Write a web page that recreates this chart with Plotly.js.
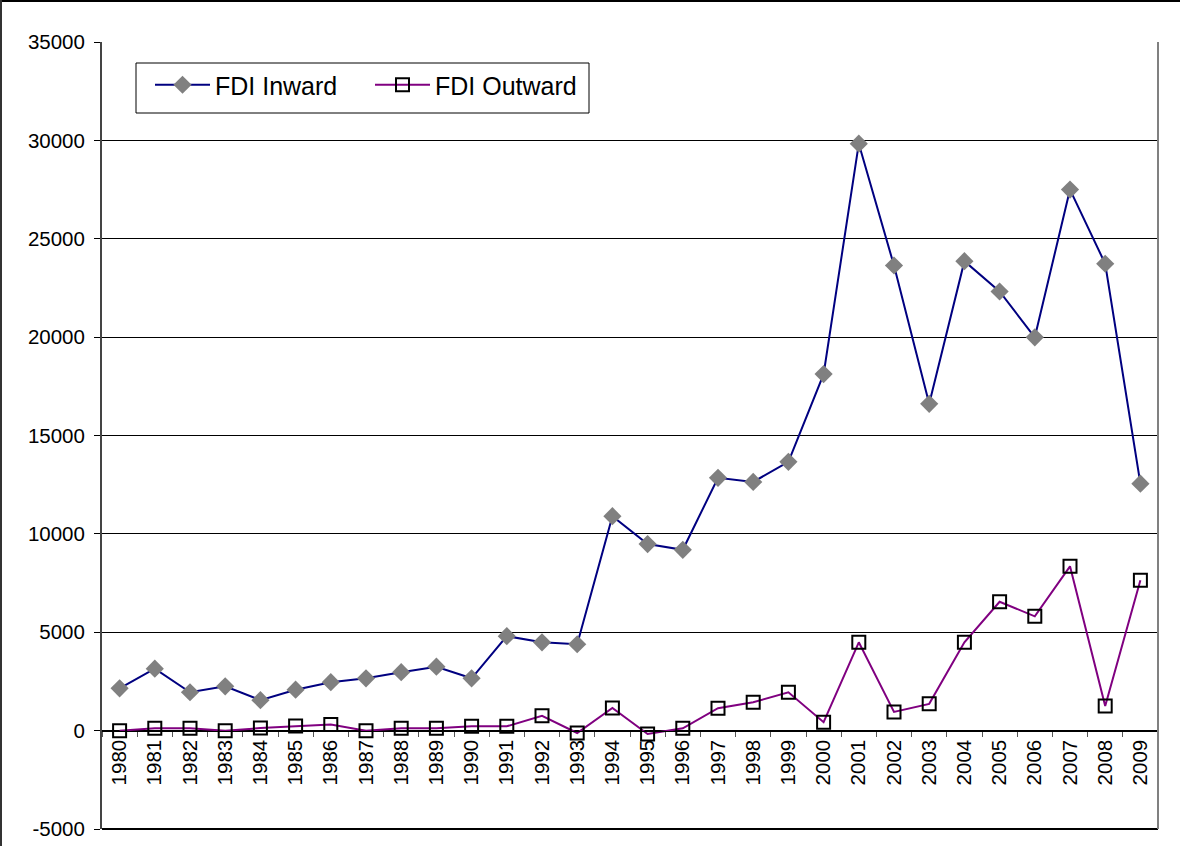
<!DOCTYPE html>
<html>
<head>
<meta charset="utf-8">
<script src="https://cdn.plot.ly/plotly-3.0.1.min.js"></script>
<style>
html,body{margin:0;padding:0;background:#fff;}
#chart{width:1180px;height:846px;}
</style>
</head>
<body>
<div id="chart"></div>
<script>
var years = ["1980","1981","1982","1983","1984","1985","1986","1987","1988","1989",
             "1990","1991","1992","1993","1994","1995","1996","1997","1998","1999",
             "2000","2001","2002","2003","2004","2005","2006","2007","2008","2009"];
var fdiInward = [2150,3150,1950,2250,1550,2080,2460,2660,2970,3250,
                 2660,4800,4490,4390,10900,9480,9190,12850,12640,13660,
                 18120,29830,23640,16610,23860,22320,19990,27500,23730,12550];
var fdiOutward = [0,120,120,0,130,230,310,0,120,120,
                  220,220,750,-120,1150,-170,120,1140,1440,1950,
                  430,4490,950,1360,4490,6550,5810,8350,1250,7640];
var seriesNames = ["FDI Inward","FDI Outward"];
var yTicks = [-5000,0,5000,10000,15000,20000,25000,30000,35000];

var W = 1180, H = 846;
var mL = 102, mR = 22, mT = 42, mB = 17;
var pw = W - mL - mR, ph = H - mT - mB;
function px(x){ return (x - mL) / pw; }
function py(y){ return (H - mB - y) / ph; }
var yMin = -5000, yMax = 35000;
var zeroPos = (0 - yMin) / (yMax - yMin);

var traces = [
  {
    x: years, y: fdiInward, name: seriesNames[0], type: "scatter", mode: "lines+markers",
    line: {color: "#000080", width: 2},
    marker: {symbol: "diamond", size: 14, color: "#808080", line: {width: 0}}
  },
  {
    x: years, y: fdiOutward, name: seriesNames[1], type: "scatter", mode: "lines+markers",
    line: {color: "#800080", width: 2},
    marker: {symbol: "square-open", size: 13, color: "#000000", line: {width: 2, color: "#000000"}}
  }
];

var layout = {
  width: W, height: H,
  margin: {l: mL, r: mR, t: mT, b: mB, pad: 0},
  paper_bgcolor: "#ffffff", plot_bgcolor: "#ffffff",
  font: {family: "Liberation Sans, Arial, sans-serif", size: 20.5, color: "#000"},
  showlegend: true,
  legend: {
    orientation: "h", x: px(150), y: py(62), xanchor: "left", yanchor: "top",
    bgcolor: "rgba(0,0,0,0)", borderwidth: 0,
    font: {size: 25, color: "#000"}, itemwidth: 55, entrywidth: 150
  },
  xaxis: {
    type: "category", range: [-0.5, years.length - 0.5], anchor: "free", position: zeroPos,
    showline: true, linecolor: "#000000", linewidth: 1,
    ticks: "outside", ticklen: 5, tickcolor: "#555555", tickson: "boundaries",
    tickangle: -90, showgrid: false, zeroline: false,
    tickfont: {size: 20.5, color: "#000"}
  },
  yaxis: {
    range: [yMin, yMax], tickvals: yTicks, ticktext: yTicks.map(String),
    showgrid: true, gridcolor: "#000000", gridwidth: 1, zeroline: false,
    showline: true, linecolor: "#444444", linewidth: 2,
    ticks: "outside", ticklen: 6, tickcolor: "#000000",
    ticklabelstandoff: 5,
    tickfont: {size: 20.5, color: "#000"}
  },
  shapes: [
    {type: "rect", xref: "paper", yref: "paper", x0: px(136), x1: px(589), y0: py(63), y1: py(113), line: {color: "#000", width: 1}, fillcolor: "#fff", layer: "above"},
    {type: "line", xref: "paper", yref: "paper", x0: 0, x1: 1, y0: 0, y1: 0, line: {color: "#000", width: 2}},
    {type: "line", xref: "paper", yref: "paper", x0: 1, x1: 1, y0: 0, y1: 1, line: {color: "#808080", width: 2}},
    {type: "line", xref: "paper", yref: "paper", x0: px(0), x1: px(W), y0: py(1), y1: py(1), line: {color: "#000", width: 2}},
    {type: "line", xref: "paper", yref: "paper", x0: px(1), x1: px(1), y0: py(0), y1: py(H), line: {color: "#333", width: 2}}
  ]
};

Plotly.newPlot("chart", traces, layout, {displayModeBar: false, staticPlot: true});
</script>
</body>
</html>
